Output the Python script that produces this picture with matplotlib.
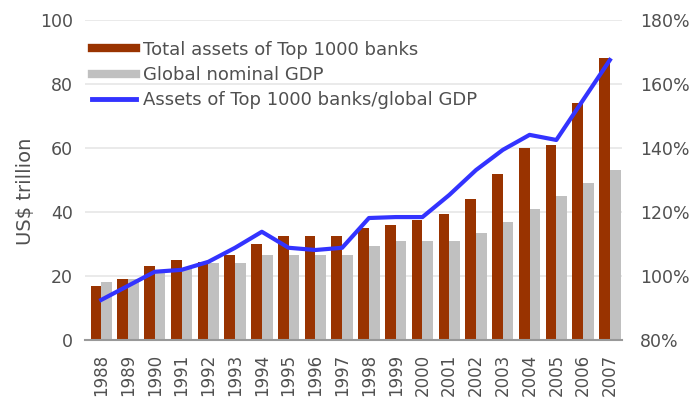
import numpy as np
import matplotlib
matplotlib.use('Agg')
import matplotlib.pyplot as plt
from matplotlib.lines import Line2D

# Данные (оценка по картинке)
years = [str(y) for y in range(1988, 2008)]
assets = [17, 19, 23, 25, 24.5, 26.5, 30, 32.5, 32.5, 32.5,
          35, 36, 37.5, 39.5, 44, 52, 60, 61, 74, 88]
gdp = [18, 19, 21, 22.5, 24, 24, 26.5, 26.5, 26.5, 26.5,
       29.5, 31, 31, 31, 33.5, 37, 41, 45, 49, 53]
ratio = [92.5, 96.9, 101.3, 101.9, 104.4, 108.8, 113.8, 108.8, 108.1, 108.8,
         118.1, 118.4, 118.4, 125.3, 133.1, 139.4, 144.1, 142.5, 155, 167.5]

brown = '#993300'
grey = '#c0c0c0'
blue = '#3333ff'
txt = '#505050'

fig = plt.figure(figsize=(6.98, 4.09), dpi=100)
ax = fig.add_axes([0.122, 0.169, 0.769, 0.782])
x = np.arange(len(years))
w = 0.4

ax.set_axisbelow(True)
ax.yaxis.grid(True, color='#e6e6e6', linewidth=1.2)
ax.bar(x - w / 2, assets, width=w, color=brown, zorder=2)
ax.bar(x + w / 2, gdp, width=w, color=grey, zorder=2)
ax.set_ylim(0, 100)
ax.set_xlim(-0.6, 19.45)
ax.set_yticks(range(0, 101, 20))
ax.set_xticks(x)
ax.set_xticklabels(years, rotation=90, fontsize=12, color=txt)
ax.tick_params(axis='y', labelsize=12.5, colors=txt, length=0, pad=9)
ax.tick_params(axis='x', length=0, pad=10)
ax.set_ylabel('US$ trillion', fontsize=14, color=txt)
ax.yaxis.set_label_coords(-0.093, 0.465)
for s in ['top', 'right', 'left']:
    ax.spines[s].set_visible(False)
ax.spines['bottom'].set_color('#999999')
ax.spines['bottom'].set_linewidth(1.5)

ax2 = ax.twinx()
ax2.plot(x, ratio, color=blue, linewidth=3, zorder=3)
ax2.set_ylim(80, 180)
ax2.set_yticks(range(80, 181, 20))
ax2.set_yticklabels([f'{v}%' for v in range(80, 181, 20)])
ax2.tick_params(axis='y', labelsize=12.5, colors=txt, length=0, pad=13)
for s in ['top', 'right', 'left', 'bottom']:
    ax2.spines[s].set_visible(False)

# Легенда
handles = [Line2D([], [], color=brown, linewidth=6),
           Line2D([], [], color=grey, linewidth=6),
           Line2D([], [], color=blue, linewidth=3.5)]
labels = ['Total assets of Top 1000 banks', 'Global nominal GDP',
          'Assets of Top 1000 banks/global GDP']
leg = ax.legend(handles, labels, loc='upper left', bbox_to_anchor=(-0.01, 0.975),
                frameon=False, fontsize=13, handlelength=2.4, labelspacing=0.4,
                handletextpad=0.4, borderaxespad=0.3)
for t in leg.get_texts():
    t.set_color(txt)

plt.savefig('out.png', dpi=100)
